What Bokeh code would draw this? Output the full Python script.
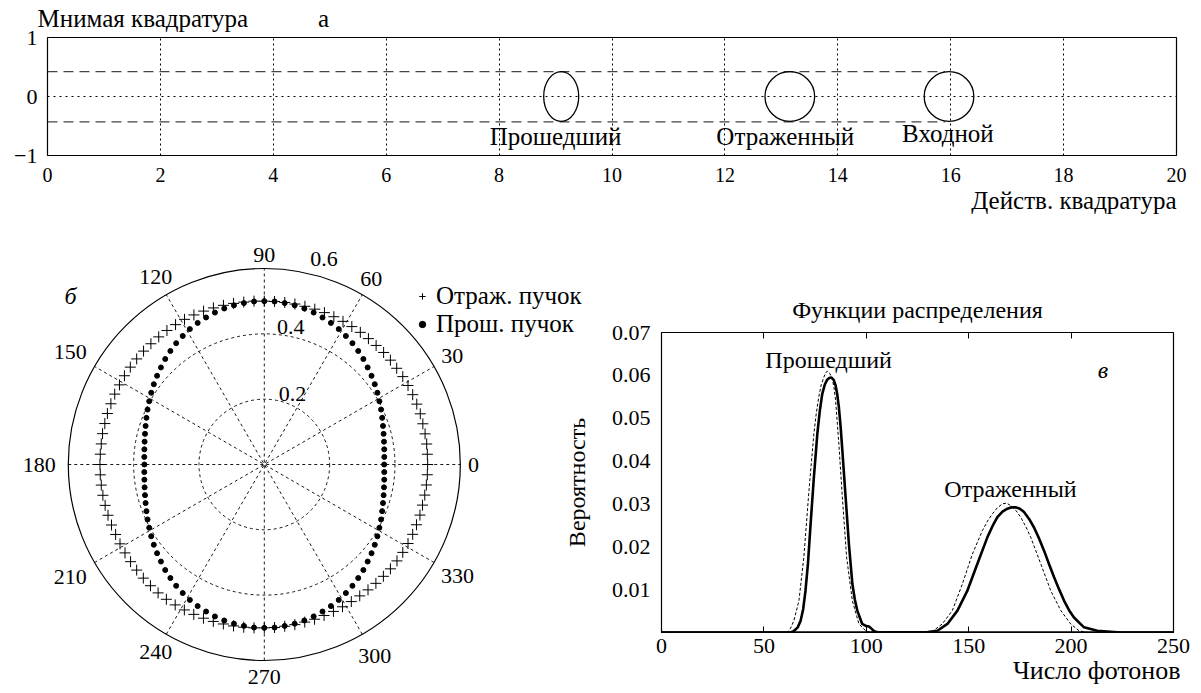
import numpy as np
from jinja2 import Template
from bokeh.plotting import figure
from bokeh.models import Range1d, Label, Legend, LegendItem, FixedTicker, LinearAxis, Title
from bokeh.embed import file_html
from bokeh.resources import INLINE
from bokeh.core.properties import value

SERIF = "Liberation Serif"

# ---------------- panel а : quadrature picture ----------------
a_x_ticks = [0, 2, 4, 6, 8, 10, 12, 14, 16, 18, 20]
a_y_ticks = [-1, 0, 1]
state_names = ["Прошедший", "Отраженный", "Входной"]
state_re = [9.1, 13.15, 15.97]      # centre, real quadrature
state_im = [0.0, 0.0, 0.0]          # centre, imaginary quadrature
state_dre = [0.62, 0.88, 0.88]      # full width of contour
state_dim = [0.84, 0.84, 0.84]      # full height of contour
band_im = [0.42, -0.43]
band_re_end = 15.9

# ---------------- panel б : polar noise diagram ----------------
theta_deg = np.arange(0, 360, 3.6)
r_refl = [
    0.500, 0.500, 0.501, 0.501, 0.501, 0.502, 0.502, 0.502, 0.502, 0.502, 0.501, 0.501, 0.501,
    0.500, 0.500, 0.500, 0.500, 0.500, 0.500, 0.500, 0.500, 0.500, 0.500, 0.500, 0.500, 0.500,
    0.501, 0.501, 0.502, 0.503, 0.504, 0.505, 0.506, 0.507, 0.507, 0.507, 0.507, 0.507, 0.507,
    0.507, 0.507, 0.507, 0.506, 0.506, 0.505, 0.505, 0.504, 0.504, 0.503, 0.503, 0.503,
    0.503, 0.503, 0.503, 0.503, 0.503, 0.503, 0.503, 0.504, 0.505, 0.506, 0.507, 0.508, 0.509,
    0.510, 0.510, 0.509, 0.508, 0.507, 0.506, 0.505, 0.504, 0.503, 0.502, 0.501, 0.500,
    0.500, 0.499, 0.499, 0.498, 0.498, 0.497, 0.497, 0.497, 0.497, 0.497, 0.498, 0.499,
    0.500, 0.501, 0.502, 0.502, 0.502, 0.502, 0.501, 0.501, 0.500, 0.500, 0.500, 0.500,
]
r_trans = [
    0.367, 0.368, 0.370, 0.373, 0.377, 0.382, 0.388, 0.395, 0.402, 0.410, 0.418, 0.426, 0.434,
    0.443, 0.451, 0.459, 0.466, 0.473, 0.479, 0.484, 0.489, 0.493, 0.496, 0.498, 0.500, 0.500,
    0.500, 0.498, 0.496, 0.493, 0.489, 0.484, 0.479, 0.473, 0.466, 0.459, 0.451, 0.443, 0.434,
    0.426, 0.418, 0.410, 0.402, 0.395, 0.388, 0.382, 0.377, 0.373, 0.370, 0.368, 0.367,
    0.368, 0.370, 0.373, 0.377, 0.382, 0.388, 0.395, 0.402, 0.410, 0.418, 0.426, 0.434,
    0.443, 0.451, 0.459, 0.466, 0.473, 0.479, 0.484, 0.489, 0.493, 0.496, 0.498, 0.500, 0.500,
    0.500, 0.498, 0.496, 0.493, 0.489, 0.484, 0.479, 0.473, 0.466, 0.459, 0.451, 0.443,
    0.434, 0.426, 0.418, 0.410, 0.402, 0.395, 0.388, 0.382, 0.377, 0.373, 0.370, 0.368,
]
polar_angle_ticks = [0, 30, 60, 90, 120, 150, 180, 210, 240, 270, 300, 330]
polar_r_ticks = [0.2, 0.4, 0.6]
legend_names = ["Отраж. пучок", "Прош. пучок"]

# ---------------- panel в : photon-number distributions ----------------
n_trans = [0, 60, 63.0, 64.5, 66.5, 67.9, 69.2, 70.3, 71.5, 72.8, 74.4, 76.1, 77.3, 78.5, 79.7,
           80.9, 81.9, 82.9, 84.0, 85.0, 85.8, 86.6, 87.5, 88.3, 89.9, 91.5, 93.2, 94.4, 95.6,
           98.0, 100.0, 101.3, 102.5, 103.8, 106.0, 250]
p_trans = [0, 0, 0, 0.0003, 0.0012, 0.0027, 0.0055, 0.0097, 0.0160, 0.0253, 0.0362, 0.0464,
           0.0517, 0.0557, 0.0578, 0.0590, 0.0594, 0.0595, 0.0590, 0.0577, 0.0556, 0.0526,
           0.0478, 0.0425, 0.0316, 0.0207, 0.0113, 0.0077, 0.0051, 0.0020, 0.0015, 0.0014,
           0.0009, 0.0003, 0, 0]
n_trans_coh = [0, 61.4, 63.0, 64.6, 67.1, 69.5, 72.0, 74.4, 75.6, 76.8, 78.0, 79.3, 80.1, 80.9,
               82.1, 83.4, 84.2, 85.0, 86.6, 88.3, 90.4, 93.2, 96.4, 99.7, 102.0, 250]
p_trans_coh = [0, 0, 0.0010, 0.0027, 0.0074, 0.0175, 0.0331, 0.0464, 0.0512, 0.0550, 0.0578,
               0.0596, 0.0605, 0.0610, 0.0605, 0.0592, 0.0572, 0.0542, 0.0440, 0.0316, 0.0175,
               0.0074, 0.0020, 0.0004, 0, 0]
n_refl = [0, 100, 130, 134.7, 139.6, 144.5, 149.3, 154.2, 159.1, 161.6, 164.0, 166.5, 168.9,
          171.0, 172.9, 175.0, 177.0, 179.5, 181.9, 184.4, 186.8, 189.2, 191.7, 194.2, 196.6,
          199.0, 201.4, 206.3, 212.8, 224.2, 250]
p_refl = [0, 0, 0.0001, 0.0004, 0.0020, 0.0051, 0.0097, 0.0160, 0.0222, 0.0248, 0.0269, 0.0282,
          0.0289, 0.0292, 0.0292, 0.0289, 0.0281, 0.0265, 0.0245, 0.0219, 0.0191, 0.0160, 0.0129,
          0.0100, 0.0074, 0.0052, 0.0035, 0.0012, 0.0004, 0, 0]
n_refl_coh = [0, 128, 132.2, 137.1, 142.0, 146.9, 151.8, 156.7, 159.2, 161.6, 164.0, 166.4,
              168.5, 170.5, 173.0, 175.4, 177.9, 180.3, 185.2, 190.1, 195.0, 199.8, 203.9, 208.0, 250]
p_refl_coh = [0, 0, 0.0002, 0.0020, 0.0051, 0.0113, 0.0183, 0.0238, 0.0260, 0.0277, 0.0291,
              0.0300, 0.0302, 0.0296, 0.0285, 0.0269, 0.0247, 0.0222, 0.0160, 0.0097, 0.0051,
              0.0020, 0.0004, 0, 0]
c_x_ticks = [0, 50, 100, 150, 200, 250]
c_y_ticks = [0.01, 0.02, 0.03, 0.04, 0.05, 0.06, 0.07]


def style_axis(ax, size):
    ax.axis_line_color = None
    ax.major_tick_in = 0
    ax.major_tick_out = 0
    ax.minor_tick_line_color = None
    ax.major_label_text_font = SERIF
    ax.major_label_text_font_size = size
    ax.major_label_text_color = "black"
    ax.axis_label_text_font = SERIF
    ax.axis_label_text_font_size = "24px"
    ax.axis_label_text_font_style = "normal"
    ax.axis_label_text_color = "black"


def lbl(p, x, y, text, size="24px", align="center", style="normal", baseline="middle"):
    p.add_layout(Label(x=x, y=y, text=text, text_font=SERIF, text_font_size=size,
                       text_align=align, text_baseline=baseline, text_font_style=style,
                       text_color="black"))


def side_title(p, text, side, align, offset, standoff, size, valign="bottom"):
    p.add_layout(Title(text=text, align=align, offset=offset, standoff=standoff,
                       vertical_align=valign, text_font=SERIF, text_font_size=size,
                       text_font_style="normal", text_color="black"), side)


# ======================= panel а =======================
pa = figure(width=1195, height=225, x_range=Range1d(0, 20), y_range=Range1d(-1, 1),
            output_backend="svg", toolbar_location=None, name="panel_a",
            min_border_left=47, min_border_right=19, min_border_top=37, min_border_bottom=70)
pa.outline_line_color = "black"
pa.outline_line_width = 1.2
style_axis(pa.xaxis[0], "20px")
style_axis(pa.yaxis[0], "22px")
pa.xaxis[0].ticker = FixedTicker(ticks=a_x_ticks)
pa.yaxis[0].ticker = FixedTicker(ticks=a_y_ticks)
pa.yaxis[0].major_label_overrides = {-1: "−1", 0: "0", 1: "1"}
pa.xaxis[0].major_label_standoff = 12
pa.yaxis[0].major_label_standoff = 10
pa.xgrid[0].ticker = FixedTicker(ticks=a_x_ticks[1:-1])
pa.xgrid[0].grid_line_color = "black"
pa.xgrid[0].grid_line_dash = "2 3"
pa.xgrid[0].grid_line_width = 1
pa.ygrid[0].ticker = FixedTicker(ticks=[0])
pa.ygrid[0].grid_line_color = "black"
pa.ygrid[0].grid_line_dash = "2 4"
pa.ygrid[0].grid_line_width = 1

# heading texts above the frame, carried by an unlabelled-tick axis
head_pos = [1.69, 4.89]
head_txt = ["Мнимая квадратура", "а"]
head_ax = LinearAxis(ticker=FixedTicker(ticks=head_pos),
                     major_label_overrides=dict(zip(head_pos, head_txt)))
style_axis(head_ax, "25px")
head_ax.major_label_standoff = 6
pa.add_layout(head_ax, "above")
side_title(pa, "Действ. квадратура", "below", "right", 0, 0, "25px")

for b in band_im:
    pa.line([0, band_re_end], [b, b], line_color="#444444", line_width=1.3, line_dash="10 6")
pa.ellipse(x=state_re, y=state_im, width=state_dre, height=state_dim,
           fill_color=None, line_color="black", line_width=1.3)

name_dx = [-0.1, -0.08, -0.02]
name_y = [-0.68, -0.68, -0.63]
for nm, xc, dx, yy in zip(state_names, state_re, name_dx, name_y):
    lbl(pa, xc + dx, yy, nm, size="25px")

# ======================= panel б =======================
cx_px, cy_px, scale = 263.8, 239.0, 326.7
pb_w, pb_h = 600, 468
pb = figure(width=pb_w, height=pb_h, name="panel_b",
            x_range=Range1d(-cx_px / scale, (pb_w - cx_px) / scale),
            y_range=Range1d(-(pb_h - cy_px) / scale, cy_px / scale),
            x_axis_location=None, y_axis_location=None, min_border=0,
            output_backend="svg", toolbar_location=None)
pb.outline_line_color = None
pb.grid.visible = False

rmax = polar_r_ticks[-1]
pb.circle(x=[0, 0], y=[0, 0], radius=polar_r_ticks[:-1], fill_color=None,
          line_color="black", line_width=0.9, line_dash="3 3")
ang = np.deg2rad(polar_angle_ticks[:6])
pb.segment(x0=-rmax * np.cos(ang), y0=-rmax * np.sin(ang), x1=rmax * np.cos(ang), y1=rmax * np.sin(ang),
           line_color="black", line_width=0.9, line_dash="3 3")
pb.circle(x=[0], y=[0], radius=[rmax], fill_color=None, line_color="black", line_width=1.2)

r_lab = np.array([0.640, 0.664, 0.655, 0.640, 0.664, 0.686, 0.689, 0.686, 0.664, 0.649, 0.676, 0.683])
ta = np.deg2rad(polar_angle_ticks)
pb.text(x=r_lab * np.cos(ta), y=r_lab * np.sin(ta), text=[str(a) for a in polar_angle_ticks],
        text_font=value(SERIF), text_font_size=value("22px"), text_align="center",
        text_baseline="middle", text_color="black")
pb.text(x=[0.044, 0.039, 0.141], y=[0.217, 0.422, 0.629], text=[f"{r:.1f}" for r in polar_r_ticks],
        text_font=value(SERIF), text_font_size=value("22px"), text_align="left",
        text_baseline="middle", text_color="black")

th = np.deg2rad(theta_deg)
rr = np.array(r_refl)
rt = np.array(r_trans)
r_cross = pb.scatter(rr * np.cos(th), rr * np.sin(th), marker="cross", size=11,
                     line_color="black", line_width=1)
r_dot = pb.scatter(rt * np.cos(th), rt * np.sin(th), marker="circle", size=5,
                   fill_color="black", line_color="black")

leg = Legend(items=[LegendItem(label=legend_names[0], renderers=[r_cross]),
                    LegendItem(label=legend_names[1], renderers=[r_dot])],
             location=(413, 355), border_line_color=None, background_fill_alpha=0,
             label_text_font=SERIF, label_text_font_size="25px", label_text_color="black",
             glyph_width=18, glyph_height=16, label_standoff=5, spacing=0, padding=10, margin=0)
pb.add_layout(leg)
lbl(pb, -0.593, 0.517, "б", size="24px", style="italic")

# ======================= panel в =======================
pc = figure(width=635, height=468, x_range=Range1d(0, 250), y_range=Range1d(0, 0.07),
            output_backend="svg", toolbar_location=None, name="panel_c",
            min_border_left=101, min_border_right=22, min_border_top=107, min_border_bottom=61)
pc.border_fill_color = None
pc.background_fill_color = None
pc.outline_line_color = "black"
pc.outline_line_width = 1.2
pc.grid.visible = False
style_axis(pc.xaxis[0], "22px")
style_axis(pc.yaxis[0], "22px")
pc.xaxis[0].ticker = FixedTicker(ticks=c_x_ticks)
pc.xaxis[0].major_tick_in = 6
pc.xaxis[0].major_label_standoff = 6
pc.yaxis[0].ticker = FixedTicker(ticks=c_y_ticks)
pc.yaxis[0].major_label_standoff = 11
pc.yaxis[0].axis_label = "Вероятность"
pc.yaxis[0].axis_label_standoff = 19
top_ax = LinearAxis(ticker=FixedTicker(ticks=c_x_ticks[1:-1]))
style_axis(top_ax, "22px")
top_ax.major_label_text_color = None
top_ax.major_tick_in = 6
top_ax.axis_label = "Функции распределения"
top_ax.axis_label_standoff = 10
pc.add_layout(top_ax, "above")
side_title(pc, "Число фотонов", "below", "right", -7, 0, "26px", valign="top")

pc.line(n_trans_coh, p_trans_coh, line_color="black", line_width=1, line_dash="3 2")
pc.line(n_refl_coh, p_refl_coh, line_color="black", line_width=1, line_dash="3 2")
pc.line(n_trans, p_trans, line_color="black", line_width=2.6, line_join="round")
pc.line(n_refl, p_refl, line_color="black", line_width=2.6, line_join="round")

lbl(pc, 81.6, 0.0636, "Прошедший", size="24px")
lbl(pc, 170.4, 0.0335, "Отраженный", size="24px")
lbl(pc, 215.6, 0.0612, "в", size="24px", style="italic")

PAGE = Template("""{% from macros import embed %}
<!DOCTYPE html>
<html lang="en">
<head>
<meta charset="utf-8">
<title>Квадратуры и распределения</title>
<style>html, body { margin: 0; padding: 0; background: white; overflow: hidden; }</style>
{{ bokeh_css }}
{{ bokeh_js }}
</head>
<body>
<div style="position:absolute; left:0px; top:0px;">{{ embed(roots.panel_a) }}</div>
<div style="position:absolute; left:0px; top:225px;">{{ embed(roots.panel_b) }}</div>
<div style="position:absolute; left:560px; top:225px;">{{ embed(roots.panel_c) }}</div>
{{ plot_script }}
</body>
</html>
""")

open("out.html", "w").write(file_html([pa, pb, pc], INLINE, template=PAGE))
